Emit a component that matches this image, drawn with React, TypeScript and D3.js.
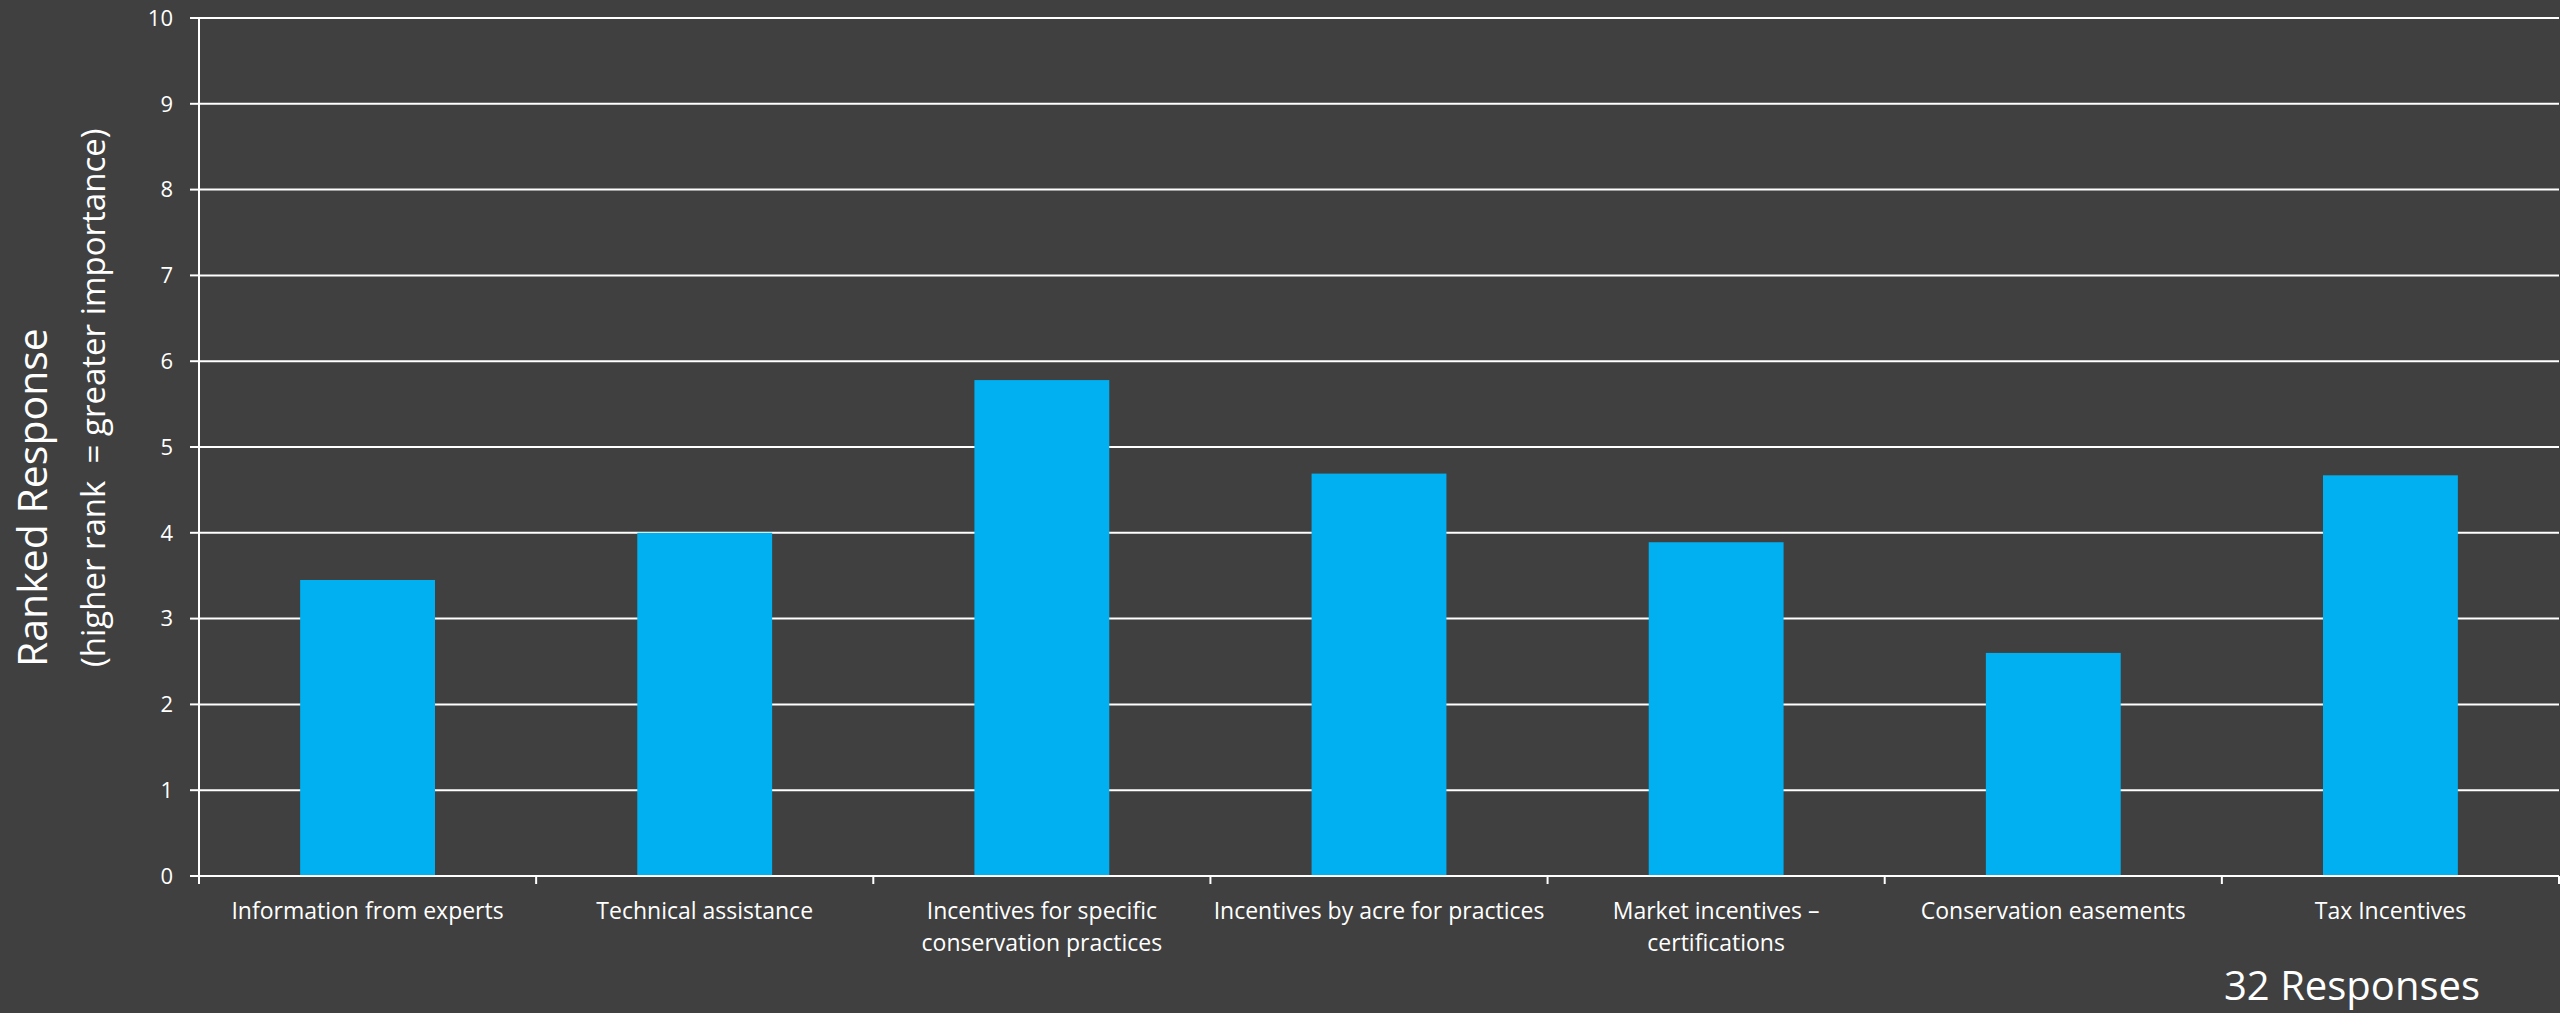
import React from "react";
import * as d3 from "d3";

const categories: string[][] = [
  ["Information from experts"],
  ["Technical assistance"],
  ["Incentives for specific", "conservation practices"],
  ["Incentives by acre for practices"],
  ["Market incentives –", "certifications"],
  ["Conservation easements"],
  ["Tax Incentives"],
];
const values: number[] = [3.45, 4.0, 5.78, 4.69, 3.89, 2.6, 4.67];
const yTicks: number[] = [0, 1, 2, 3, 4, 5, 6, 7, 8, 9, 10];
const yTitle1 = "Ranked Response";
const yTitle2 = "(higher rank  = greater importance)";
const footnote = "32 Responses";

const W = 2560;
const H = 1013;
const BG = "#404040";
const BAR = "#00B0F0";
const FG = "#ffffff";
const FONT = "'Open Sans', 'Noto Sans', sans-serif";

export default function App() {
  const left = 199;
  const right = 2559;
  const top = 18;
  const bottom = 876;

  const keys = categories.map((_, i) => String(i));
  const x = d3.scaleBand<string>().domain(keys).range([left, right]).paddingInner(0.6).paddingOuter(0.3);
  const y = d3.scaleLinear().domain([0, 10]).range([bottom, top]);
  const step = x.step();
  const boundaries = d3.range(categories.length + 1).map((i) => left + i * step);

  return (
    <svg
      width={W}
      height={H}
      viewBox={`0 0 ${W} ${H}`}
      style={{ position: "absolute", left: 0, top: 0, display: "block" }}
    >
      <rect x={0} y={0} width={W} height={H} fill={BG} />

      {/* gridlines */}
      {yTicks.filter((t) => t !== 0).map((t) => (
        <line key={"g" + t} x1={left} x2={right} y1={y(t)} y2={y(t)} stroke={FG} strokeWidth={2} />
      ))}

      {/* bars */}
      {values.map((v, i) => (
        <rect
          key={"b" + i}
          x={x(String(i))}
          y={y(v)}
          width={x.bandwidth()}
          height={y(0) - y(v)}
          fill={BAR}
        />
      ))}

      {/* y axis */}
      <line x1={left} x2={left} y1={top} y2={bottom + 8} stroke={FG} strokeWidth={2} />
      {yTicks.map((t) => (
        <g key={"yt" + t}>
          <line x1={left - 9} x2={left} y1={y(t)} y2={y(t)} stroke={FG} strokeWidth={2} />
          <text
            x={173}
            y={y(t)}
            dy="0.35em"
            textAnchor="end"
            fill={FG}
            fontFamily={FONT}
            fontSize={22}
          >
            {t}
          </text>
        </g>
      ))}

      {/* x axis */}
      <line x1={left} x2={right} y1={y(0)} y2={y(0)} stroke={FG} strokeWidth={2} />
      {boundaries.map((bx, i) => (
        <line key={"xt" + i} x1={bx} x2={bx} y1={y(0)} y2={y(0) + 8} stroke={FG} strokeWidth={2} />
      ))}
      {categories.map((lines, i) => (
        <text
          key={"xl" + i}
          x={(x(String(i)) as number) + x.bandwidth() / 2}
          y={919}
          textAnchor="middle"
          fill={FG}
          fontFamily={FONT}
          fontSize={23}
        >
          {lines.map((ln, j) => (
            <tspan key={j} x={(x(String(i)) as number) + x.bandwidth() / 2} dy={j === 0 ? 0 : 32}>
              {ln}
            </tspan>
          ))}
        </text>
      ))}

      {/* y axis title */}
      <text
        transform={`translate(47,667) rotate(-90)`}
        textAnchor="start"
        fill={FG}
        fontFamily={FONT}
        fontSize={41}
      >
        {yTitle1}
      </text>
      <text
        transform={`translate(105,667) rotate(-90)`}
        textAnchor="start"
        fill={FG}
        fontFamily={FONT}
        fontSize={33}
        style={{ whiteSpace: "pre" }}
      >
        {yTitle2}
      </text>

      {/* footnote */}
      <text x={2224} y={1000} textAnchor="start" fill={FG} fontFamily={FONT} fontSize={40}>
        {footnote}
      </text>
    </svg>
  );
}
